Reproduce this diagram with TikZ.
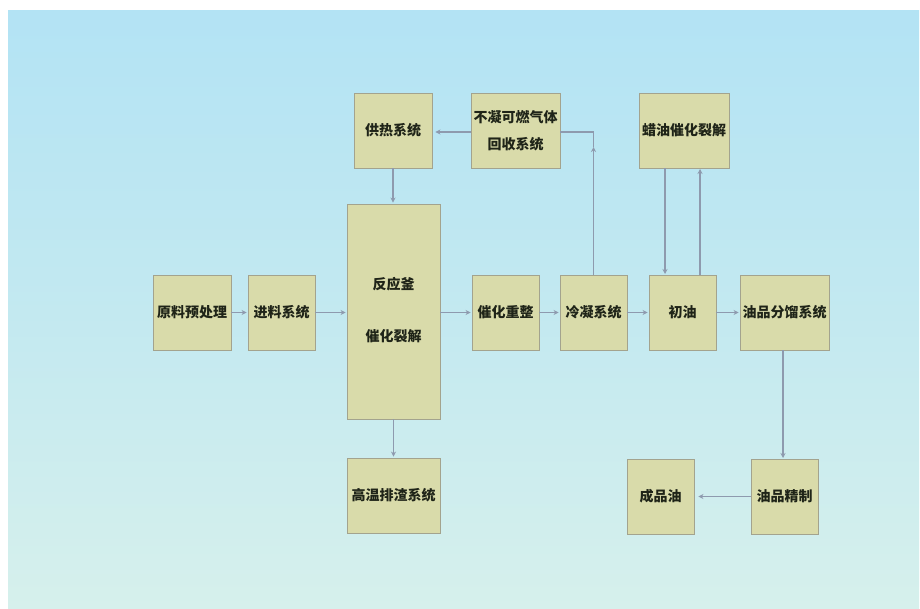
\documentclass[tikz,border=0pt]{standalone}
\usepackage{fontspec}
\newfontfamily\cjk{Noto Sans CJK SC}
\usetikzlibrary{arrows.meta}
\definecolor{boxfill}{HTML}{D9DBAA}
\definecolor{boxdraw}{HTML}{A3A38E}
\definecolor{linec}{HTML}{8E9AAE}
\definecolor{bgtop}{HTML}{B3E3F4}
\definecolor{bgbot}{HTML}{D6F0EC}
\definecolor{txt}{HTML}{1F2418}
\tikzset{
  x=1pt, y=-1pt,
  pbox/.style={draw=boxdraw, fill=boxfill, line width=0.9pt, inner sep=0pt,
    font=\cjk\bfseries\fontsize{14}{27}\selectfont, text=txt, align=center},
  lbl/.style={font=\cjk\bfseries\fontsize{14}{17}\selectfont, text=txt, inner sep=0pt},
  flow/.style={draw=linec, line width=1.5pt, -{Stealth[length=5pt,width=5pt]}},
  plain/.style={draw=linec, line width=1.5pt}
}
\begin{document}
\begin{tikzpicture}
\useasboundingbox (0,0) rectangle (920,608);
\fill[white] (0,0) rectangle (920,608);
\shade[top color=bgtop, bottom color=bgbot, middle color=bgtop!55!bgbot] (8,10) rectangle (919,608);

% boxes
\node[pbox, minimum width=78pt, minimum height=75pt] (gr) at (393,130.5) {供热系统};
\node[pbox, minimum width=89pt, minimum height=75pt] (bn) at (515.5,130.5) {不凝可燃气体\\回收系统};
\node[pbox, minimum width=90pt, minimum height=75pt] (lw) at (684,130.5) {蜡油催化裂解};
\node[pbox, minimum width=78pt, minimum height=75pt] (yl) at (192,312.5) {原料预处理};
\node[pbox, minimum width=67pt, minimum height=75pt] (jl) at (281.5,312.5) {进料系统};
\node[pbox, minimum width=93pt, minimum height=215pt] (fy) at (393.5,311.5) {};
\node[lbl] (fy1) at (393.5,284) {反应釜};
\node[lbl] (fy2) at (393.5,336) {催化裂解};
\node[pbox, minimum width=67pt, minimum height=75pt] (ch) at (505.5,312.5) {催化重整};
\node[pbox, minimum width=67pt, minimum height=75pt] (ln) at (593.5,312.5) {冷凝系统};
\node[pbox, minimum width=67pt, minimum height=75pt] (cy) at (682.5,312.5) {初油};
\node[pbox, minimum width=89pt, minimum height=75pt] (fl) at (784.5,312.5) {油品分馏系统};
\node[pbox, minimum width=93pt, minimum height=75pt] (gw) at (393.5,495.5) {高温排渣系统};
\node[pbox, minimum width=67pt, minimum height=75pt] (jz) at (784.5,496.5) {油品精制};
\node[pbox, minimum width=67pt, minimum height=75pt] (cp) at (660.5,496.5) {成品油};

% horizontal main flow
\draw[flow, shorten >=1pt] (yl.east) -- (jl.west);
\draw[flow, shorten >=1pt] (jl.east) -- (fy.west |- jl.east);
\draw[flow, shorten >=1pt] (fy.east |- ch.west) -- (ch.west);
\draw[flow, shorten >=1pt] (ch.east) -- (ln.west);
\draw[flow, shorten >=1pt] (ln.east) -- (cy.west);
\draw[flow, shorten >=1pt] (cy.east) -- (fl.west);

% heating / slag
\draw[flow, shorten >=1pt] (gr.south) -- (gr.south |- fy.north);
\draw[flow, shorten >=1pt] (fy.south |- fy.south) -- (fy.south |- gw.north);
\draw[flow, shorten >=3pt] (bn.west |- 0,132) -- (gr.east |- 0,132);

% gas recovery loop
\coordinate (lnA) at (593.5,147);
\coordinate (lnB) at (593.5,132);
\draw[flow] (ln.north) -- (lnA);
\draw[plain] (lnA) -- (lnB) -- (bn.east |- lnB);

% wax oil loop
\draw[flow, shorten >=1pt] (665,168) -- (665,275);
\draw[flow, shorten >=1pt] (700,275) -- (700,168);

% refining
\draw[flow, shorten >=1pt] (783,350) -- (783,459);
\draw[flow, shorten >=4pt] (jz.west) -- (cp.east);
\end{tikzpicture}
\end{document}
